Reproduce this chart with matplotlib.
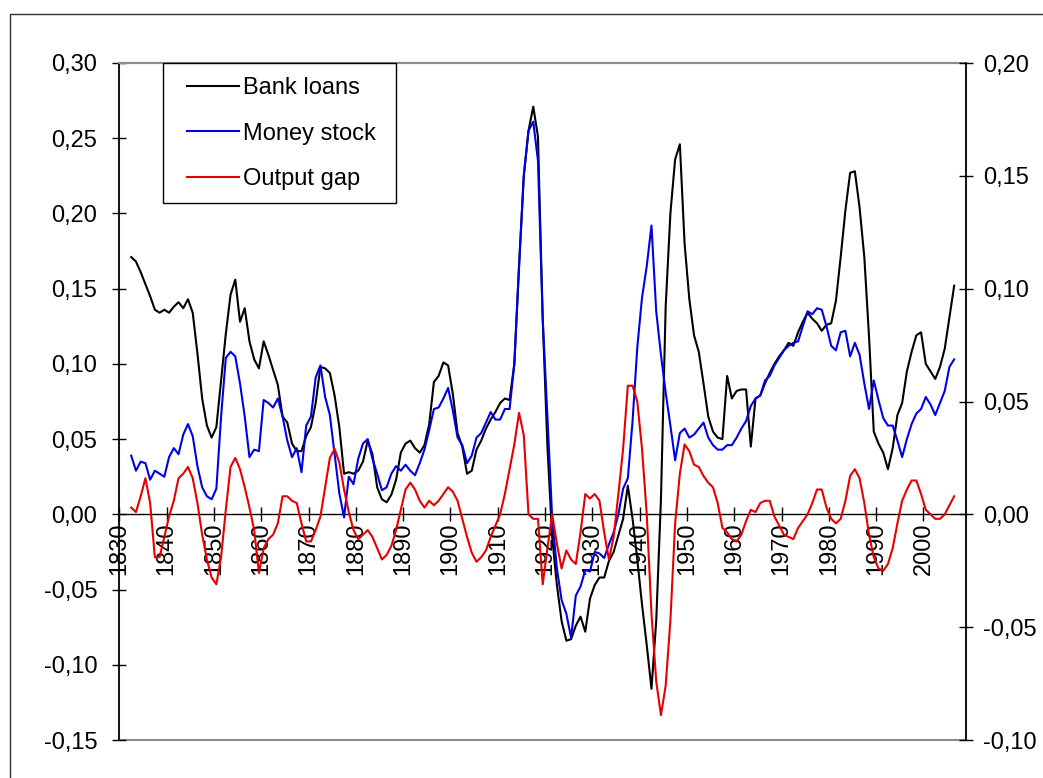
import matplotlib
matplotlib.use('Agg')
import matplotlib.pyplot as plt
from matplotlib.patches import Rectangle
from matplotlib.ticker import FuncFormatter, MultipleLocator
import numpy as np

plt.rcParams['font.family'] = ['Liberation Sans', 'DejaVu Sans']

# Annual data 1832-2006
years = np.arange(1832, 2007)

bank_loans = [
    0.171, 0.168, 0.161, 0.153, 0.145, 0.136, 0.134, 0.136, 0.134, 0.138,   # 1832-1841
    0.141, 0.137, 0.143, 0.134, 0.107, 0.077, 0.059, 0.051, 0.058, 0.089,   # 1842-1851
    0.120, 0.146, 0.156, 0.128, 0.137, 0.115, 0.103, 0.097, 0.115, 0.106,   # 1852-1861
    0.096, 0.086, 0.065, 0.061, 0.047, 0.042, 0.042, 0.052, 0.058, 0.074,   # 1862-1871
    0.098, 0.097, 0.094, 0.079, 0.058, 0.027, 0.028, 0.027, 0.029, 0.035,   # 1872-1881
    0.049, 0.040, 0.018, 0.010, 0.008, 0.013, 0.023, 0.041, 0.047, 0.049,   # 1882-1891
    0.044, 0.041, 0.046, 0.060, 0.088, 0.092, 0.101, 0.099, 0.080, 0.054,   # 1892-1901
    0.045, 0.027, 0.029, 0.043, 0.049, 0.057, 0.063, 0.068, 0.074, 0.077,   # 1902-1911
    0.076, 0.100, 0.165, 0.225, 0.255, 0.271, 0.251, 0.130, 0.045, -0.015,  # 1912-1921
    -0.047, -0.071, -0.084, -0.083, -0.074, -0.068, -0.078, -0.056, -0.047, -0.042,  # 1922-1931
    -0.042, -0.031, -0.025, -0.014, -0.003, 0.019, -0.003, -0.030, -0.060, -0.087,   # 1932-1941
    -0.116, -0.071, 0.010, 0.138, 0.200, 0.236, 0.246, 0.180, 0.143, 0.119,  # 1942-1951
    0.108, 0.087, 0.065, 0.055, 0.051, 0.050, 0.092, 0.077, 0.082, 0.083,   # 1952-1961
    0.083, 0.045, 0.077, 0.079, 0.087, 0.094, 0.100, 0.105, 0.109, 0.114,   # 1962-1971
    0.112, 0.121, 0.128, 0.134, 0.130, 0.127, 0.122, 0.126, 0.127, 0.142,   # 1972-1981
    0.171, 0.202, 0.227, 0.228, 0.204, 0.171, 0.118, 0.055, 0.047, 0.041,   # 1982-1991
    0.030, 0.044, 0.066, 0.074, 0.095, 0.108, 0.119, 0.121, 0.100, 0.095,   # 1992-2001
    0.090, 0.098, 0.110, 0.131, 0.152,                                      # 2002-2006
]

money_stock = [
    0.039, 0.029, 0.035, 0.034, 0.023, 0.029, 0.027, 0.025, 0.038, 0.044,   # 1832-1841
    0.040, 0.053, 0.060, 0.052, 0.032, 0.018, 0.012, 0.010, 0.017, 0.065,   # 1842-1851
    0.104, 0.108, 0.105, 0.087, 0.065, 0.038, 0.043, 0.042, 0.076, 0.074,   # 1852-1861
    0.071, 0.077, 0.065, 0.049, 0.038, 0.044, 0.028, 0.059, 0.065, 0.091,   # 1862-1871
    0.099, 0.078, 0.066, 0.040, 0.014, -0.002, 0.025, 0.020, 0.037, 0.047,  # 1872-1881
    0.050, 0.037, 0.027, 0.016, 0.018, 0.027, 0.032, 0.029, 0.033, 0.029,   # 1882-1891
    0.026, 0.034, 0.043, 0.056, 0.070, 0.071, 0.077, 0.084, 0.069, 0.051,   # 1892-1901
    0.046, 0.034, 0.039, 0.051, 0.054, 0.061, 0.068, 0.063, 0.063, 0.070,   # 1902-1911
    0.070, 0.100, 0.165, 0.225, 0.255, 0.261, 0.235, 0.130, 0.065, -0.002,  # 1912-1921
    -0.036, -0.057, -0.066, -0.082, -0.054, -0.048, -0.037, -0.038, -0.025, -0.026,  # 1922-1931
    -0.029, -0.020, -0.012, 0.000, 0.017, 0.024, 0.062, 0.111, 0.144, 0.165,  # 1932-1941
    0.192, 0.135, 0.106, 0.081, 0.059, 0.036, 0.054, 0.057, 0.051, 0.053,   # 1942-1951
    0.057, 0.061, 0.051, 0.046, 0.043, 0.043, 0.046, 0.046, 0.051, 0.057,   # 1952-1961
    0.062, 0.072, 0.077, 0.079, 0.089, 0.092, 0.099, 0.104, 0.109, 0.112,   # 1962-1971
    0.114, 0.115, 0.125, 0.135, 0.133, 0.137, 0.136, 0.125, 0.112, 0.109,   # 1972-1981
    0.121, 0.122, 0.105, 0.114, 0.106, 0.087, 0.070, 0.089, 0.076, 0.064,   # 1982-1991
    0.059, 0.059, 0.049, 0.038, 0.050, 0.060, 0.067, 0.070, 0.078, 0.073,   # 1992-2001
    0.066, 0.074, 0.082, 0.098, 0.103,                                      # 2002-2006
]

output_gap = [
    0.003, 0.001, 0.008, 0.016, 0.005, -0.019, -0.019, -0.010, -0.001, 0.006,  # 1832-1841
    0.016, 0.018, 0.021, 0.016, 0.005, -0.009, -0.020, -0.028, -0.031, -0.019,  # 1842-1851
    0.002, 0.021, 0.025, 0.020, 0.012, 0.003, -0.007, -0.026, -0.015, -0.011,   # 1852-1861
    -0.009, -0.004, 0.008, 0.008, 0.006, 0.005, -0.004, -0.012, -0.012, -0.007, # 1862-1871
    -0.001, 0.012, 0.025, 0.029, 0.023, 0.011, 0.001, -0.007, -0.011, -0.009,   # 1872-1881
    -0.007, -0.010, -0.015, -0.020, -0.018, -0.014, -0.007, 0.002, 0.011, 0.014,  # 1882-1891
    0.011, 0.006, 0.003, 0.006, 0.004, 0.006, 0.009, 0.012, 0.010, 0.006,       # 1892-1901
    -0.002, -0.010, -0.017, -0.021, -0.019, -0.016, -0.010, -0.005, 0.000, 0.009,  # 1902-1911
    0.020, 0.031, 0.045, 0.035, 0.000, -0.002, -0.002, -0.031, -0.015, 0.000,   # 1912-1921
    -0.013, -0.024, -0.016, -0.020, -0.022, -0.008, 0.009, 0.007, 0.009, 0.006,  # 1922-1931
    -0.008, -0.020, -0.010, 0.009, 0.029, 0.057, 0.057, 0.050, 0.029, 0.000,    # 1932-1941
    -0.044, -0.074, -0.089, -0.076, -0.047, -0.004, 0.018, 0.031, 0.028, 0.022,  # 1942-1951
    0.021, 0.017, 0.014, 0.012, 0.005, -0.006, -0.008, -0.011, -0.012, -0.009,  # 1952-1961
    -0.003, 0.002, 0.001, 0.005, 0.006, 0.006, -0.001, -0.005, -0.009, -0.010,  # 1962-1971
    -0.011, -0.006, -0.003, 0.000, 0.005, 0.011, 0.011, 0.003, -0.002, -0.004,  # 1972-1981
    -0.002, 0.006, 0.017, 0.020, 0.016, 0.005, -0.009, -0.019, -0.024, -0.025,  # 1982-1991
    -0.022, -0.015, -0.004, 0.006, 0.011, 0.015, 0.015, 0.009, 0.002, 0.000,    # 1992-2001
    -0.002, -0.002, 0.000, 0.004, 0.008,                                        # 2002-2006
]

xtick_years = list(range(1830, 2001, 10))

W, H = 1043, 778
FONT_SIZE = 17


def comma_fmt(v, pos):
    return f"{round(v, 2) + 0.0:.2f}".replace('.', ',')


fig = plt.figure(figsize=(W / 100, H / 100), dpi=100)

# outer chart frame (cut off on right and bottom like the original)
fig.add_artist(Rectangle((10 / W, -0.1), 1.2, 1.1 - 14 / H, transform=fig.transFigure,
                         fill=False, edgecolor='#303030', linewidth=1.0))

left, right, top, bottom = 119.4, 966, 63, 740
ax = fig.add_axes([left / W, 1 - bottom / H, (right - left) / W, (bottom - top) / H])

# Excel puts each point in the middle of its year category
x = years + 0.5
ax.plot(x, bank_loans, color='black', lw=1.5, zorder=3, label='Bank loans')
ax.plot(x, money_stock, color='#0000e6', lw=1.5, zorder=3, label='Money stock')

ax.set_xlim(1830, 2009)
ax.set_ylim(-0.15, 0.30)
ax.yaxis.set_major_locator(MultipleLocator(0.05))
ax.yaxis.set_major_formatter(FuncFormatter(comma_fmt))
ax.set_xticks(xtick_years)
ax.set_xticklabels([str(y) for y in xtick_years])

ax.spines['bottom'].set_position(('data', 0))
ax.spines['bottom'].set_linewidth(1.0)
ax.spines['left'].set_linewidth(1.2)
ax.spines['top'].set_color('#8c8c8c')
ax.spines['top'].set_linewidth(1.5)
ax.spines['right'].set_visible(False)
# bottom edge of the plot area (the x axis itself sits at zero)
ax.add_patch(Rectangle((0, 0), 1, 1, transform=ax.transAxes, fill=False,
                       edgecolor='#8c8c8c', linewidth=1.5, clip_on=False, zorder=0.5))

ax.tick_params(axis='y', direction='inout', length=10, width=1.0, pad=11,
               labelsize=FONT_SIZE, right=False)
ax.tick_params(axis='x', direction='inout', length=10, width=1.0, pad=1,
               labelsize=FONT_SIZE, labelrotation=90, top=False)

ax2 = ax.twinx()
ax2.plot(x, output_gap, color='#e60000', lw=1.5, zorder=3, label='Output gap')
ax2.set_ylim(-0.10, 0.20)
ax2.yaxis.set_major_locator(MultipleLocator(0.05))
ax2.yaxis.set_major_formatter(FuncFormatter(comma_fmt))
for side in ['left', 'top', 'bottom']:
    ax2.spines[side].set_visible(False)
ax2.spines['right'].set_linewidth(1.2)
ax2.tick_params(axis='y', direction='inout', length=10, width=1.0, pad=7,
                labelsize=FONT_SIZE)

# legend box
fig.add_artist(Rectangle((163 / W, 1 - 203 / H), (396 - 163) / W, (203 - 63) / H,
                         transform=fig.transFigure, facecolor='white',
                         edgecolor='black', linewidth=1.0, zorder=5))
handles = ax.get_lines() + ax2.get_lines()
fig.legend(handles, [h.get_label() for h in handles], loc='upper left',
           bbox_to_anchor=(186.7 / W, 1 - 77 / H), frameon=False, borderpad=0,
           borderaxespad=0, handlelength=2.2, handletextpad=0.2,
           labelspacing=1.0, fontsize=FONT_SIZE).set_zorder(6)

fig.savefig('out.png', dpi=100)
